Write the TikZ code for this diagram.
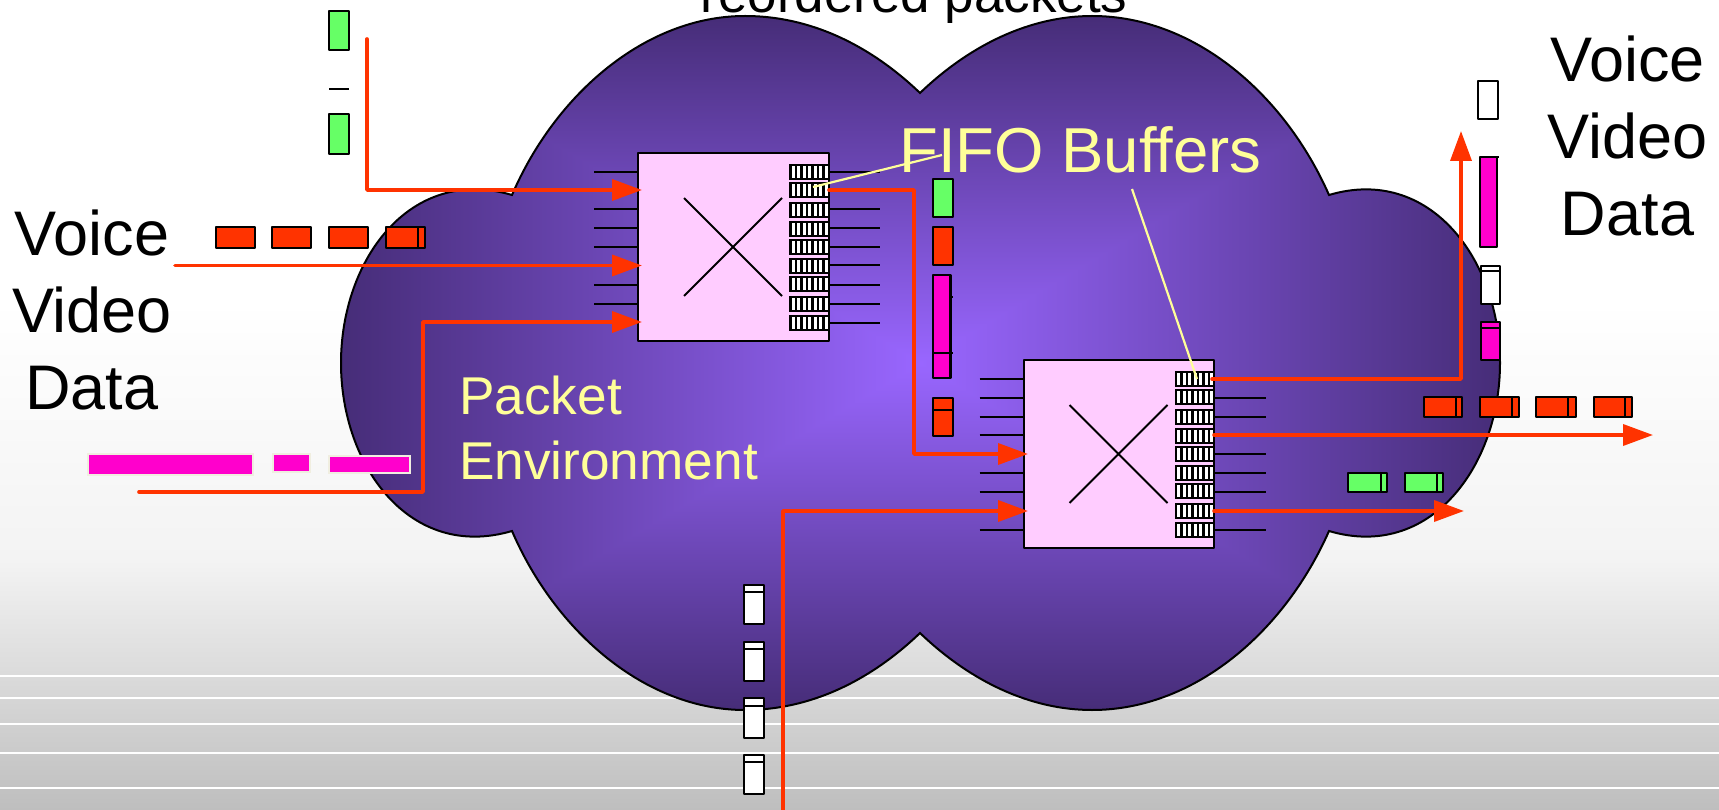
\documentclass[tikz,border=0pt]{standalone}
\usepackage{fontspec}
\setmainfont{Liberation Sans}
\usetikzlibrary{arrows.meta,calc}
\definecolor{redl}{HTML}{FF3300}
\definecolor{yel}{HTML}{FFFF99}
\definecolor{swfill}{HTML}{FFCCFF}
\definecolor{grn}{HTML}{66FF66}
\definecolor{mag}{HTML}{FF00CC}
\definecolor{magedge}{HTML}{F0EEE0}
\pgfdeclarefunctionalshading{cloudshade}{\pgfpoint{-50bp}{-50bp}}{\pgfpoint{50bp}{50bp}}{}{
 abs 25 div exch abs 25 div
 2 copy lt {exch} if pop
 dup -0.325 mul 0.6 add exch
 dup -0.225 mul 0.4 add exch
 -0.53 mul 1.0 add
}
\tikzset{
  redline/.style={draw=redl,line width=3.6pt,line join=round,line cap=round},
  redarrow/.style={redline,-{Triangle[length=30pt,width=21pt]}},
  yelline/.style={draw=yel,line width=2.2pt},
  stub/.style={draw=black,line width=2pt},
  pkt/.style={draw=black,line width=2.3pt,line join=round},
  swbox/.style={draw=black,fill=swfill,line width=2.2pt,inner sep=0pt,outer sep=0pt,minimum width=190.5pt,minimum height=188pt,line join=round},
  gridline/.style={draw=white,line width=1.5pt},
  bigtext/.style={font=\fontsize{63}{77}\selectfont,align=center,text=black,inner sep=0pt},
  yeltext/.style={text=yel,inner sep=0pt}
}
\newcommand{\pk}[5]{\draw[pkt,fill=#5] (#1,#2) rectangle (#3,#4);}
\newcommand{\pkv}[6]{\draw[pkt,fill=#6] (#1,#2) rectangle (#3,#4) (#1,#5) -- (#3,#5);}
\newcommand{\pkh}[6]{\draw[pkt,fill=#6] (#1,#2) rectangle (#3,#4) (#5,#2) -- (#5,#4);}
\newcommand{\mpk}[4]{\draw[draw=magedge,fill=mag,line width=2pt] (#1,#2) rectangle (#3,#4);}
% name, x offset, y offset, left stubs, right stubs
\newcommand{\switchblock}[5]{%
  \begin{scope}[shift={(#2,#3)}]
    \foreach \y in {#4} \draw[stub] (594,\y) -- (638,\y);
    \foreach \y in {#5} \draw[stub] (829,\y) -- (880,\y);
    \node[swbox,anchor=north west] (#1) at (638.3,152.7) {};
    \draw[line width=2pt] (684,198) -- (782,296) (684,296) -- (782,198);
    \foreach \y in {164.3,182.3,202.3,220.7,238.7,258.3,276,296,315.3}{
      \fill[black] (789.3,\y) rectangle (829.3,\y+16);
      \foreach \k in {0,...,6} \fill[white] (791.6+\k*5.5,\y+2) rectangle ++(3,12);
    }
  \end{scope}}
\begin{document}
\begin{tikzpicture}[x=1pt,y=-1pt]
\useasboundingbox (0,0) rectangle (1719,810);
\shade[top color=white,bottom color={rgb,255:red,243;green,243;blue,243}] (0,300) rectangle (1719,560);
\shade[top color={rgb,255:red,243;green,243;blue,243},bottom color={rgb,255:red,190;green,190;blue,190}] (0,560) rectangle (1719,810);
\foreach \y in {676,698,724,753,788} \draw[gridline] (0,\y) -- (1719,\y);
% cloud
\path[shading=cloudshade,draw=black,line width=2pt,line join=miter]
  (512,195) .. controls (555,95) and (645,16) .. (745,16)
  .. controls (810,16) and (870,45) .. (920,93)
  .. controls (970,45) and (1030,16) .. (1092,16)
  .. controls (1195,16) and (1285,95) .. (1329,195)
  .. controls (1430,165) and (1500,260) .. (1500,363)
  .. controls (1500,466) and (1430,561) .. (1329,531)
  .. controls (1285,631) and (1195,710) .. (1092,710)
  .. controls (1030,710) and (970,681) .. (920,633)
  .. controls (870,681) and (810,710) .. (745,710)
  .. controls (645,710) and (555,631) .. (512,531)
  .. controls (410,561) and (341,466) .. (341,363)
  .. controls (341,260) and (410,165) .. (512,195) -- cycle;
% switches
\switchblock{swa}{0}{0}{172,209,228,247,285,304}{172,209,228,247,265,285,304,323}
\switchblock{swb}{385.5}{207}{172,191,210,228,266,285,323}{191,210,247,266,285,323}
% free ends of connectors
\coordinate (l1s) at (367,39); \coordinate (l1b) at (367,190); \coordinate (l1e) at (642,190);
\coordinate (l2s) at (175,265.5); \coordinate (l2e) at (642,265.5);
\coordinate (l3s) at (139,492); \coordinate (l3b) at (423,492); \coordinate (l3c) at (423,322); \coordinate (l3e) at (642,322);
\coordinate (l4s) at (829,190); \coordinate (l4b) at (914,190); \coordinate (l4c) at (914,454); \coordinate (l4e) at (1028,454);
\coordinate (l5s) at (783,810); \coordinate (l5b) at (783,511); \coordinate (l5e) at (1028,511);
\coordinate (l6s) at (1212,379); \coordinate (l6b) at (1461,379); \coordinate (l6e) at (1461,131);
\coordinate (l7s) at (1214,435); \coordinate (l7e) at (1653,435);
\coordinate (l8s) at (1214,511); \coordinate (l8e) at (1464,511);
\draw[redarrow] (l1s) -- (l1b) -- (l1e);
\draw[redarrow] (l2s) -- (l2e);
\draw[redarrow] (l3s) -- (l3b) -- (l3c) -- (l3e);
\draw[redarrow] (l4s) -- (l4b) -- (l4c) -- (l4e);
\draw[redarrow] (l5s) -- (l5b) -- (l5e);
\draw[redarrow] (l6s) -- (l6b) -- (l6e);
\draw[redarrow] (l7s) -- (l7e);
\draw[redarrow] (l8s) -- (l8e);
% packets
\pk{329}{11}{349}{50}{grn}
\pk{329}{114}{349}{154}{grn}
\draw[line width=2pt] (329,89) -- (349,89);
\pk{216}{227}{255}{248}{redl}
\pk{272}{227}{311}{248}{redl}
\pk{329}{227}{368}{248}{redl}
\pkh{386}{227}{425}{248}{418}{redl}
\mpk{88}{454}{253}{475}
\mpk{273}{454}{310}{472}
\mpk{329}{456}{410}{473}
\pk{933}{179}{953}{217}{grn}
\pk{933}{227}{953}{265}{redl}
\pkv{933}{275}{950.5}{378}{353}{mag}
\draw[line width=2pt] (950.5,297) -- (953,297) (950.5,353) -- (953,353);
\pkv{933}{398}{953}{436}{410}{redl}
\pk{1478}{81}{1498}{119}{white}
\pk{1480}{157}{1497}{247}{mag}
\draw[line width=2pt] (1497,157) -- (1499,157);
\pkv{1481}{266}{1500}{304}{271}{white}
\pkv{1481}{322}{1500}{360}{328}{mag}
\pkh{1424}{397}{1462}{417}{1456}{redl}
\pkh{1480}{397}{1519}{417}{1512}{redl}
\pkh{1536}{397}{1576}{417}{1568}{redl}
\pkh{1594}{397}{1632}{417}{1625}{redl}
\pkh{1348}{473}{1387}{492}{1381}{grn}
\pkh{1405}{473}{1443}{492}{1437}{grn}
\pkv{744}{585}{764}{624}{592}{white}
\pkv{744}{642}{764}{681}{649}{white}
\pkv{744}{698}{764}{738}{706}{white}
\pkv{744}{755}{764}{794}{762}{white}
% labels
\node[bigtext,anchor=base] (left) at (92,409) {Voice\\Video\\Data};
\node[bigtext,anchor=base] (right) at (1627.5,236) {Voice\\Video\\Data};
\node[yeltext,anchor=base west,font=\fontsize{63.5}{70}\selectfont] (fifo) at (899,173) {FIFO Buffers};
\node[yeltext,anchor=base west,align=left,font=\fontsize{53.2}{65}\selectfont] (env) at (459,479.5) {Packet\\Environment};
\node[anchor=base,inner sep=0pt,font=\fontsize{53}{60}\selectfont] (reord) at (914,13) {reordered packets};
\coordinate (y1a) at (942,155); \coordinate (y1b) at (813,187);
\coordinate (y2a) at (1132,189); \coordinate (y2b) at (1197,379);
\draw[yelline] (y1a) -- (y1b);
\draw[yelline] (y2a) -- (y2b);
\end{tikzpicture}
\end{document}
